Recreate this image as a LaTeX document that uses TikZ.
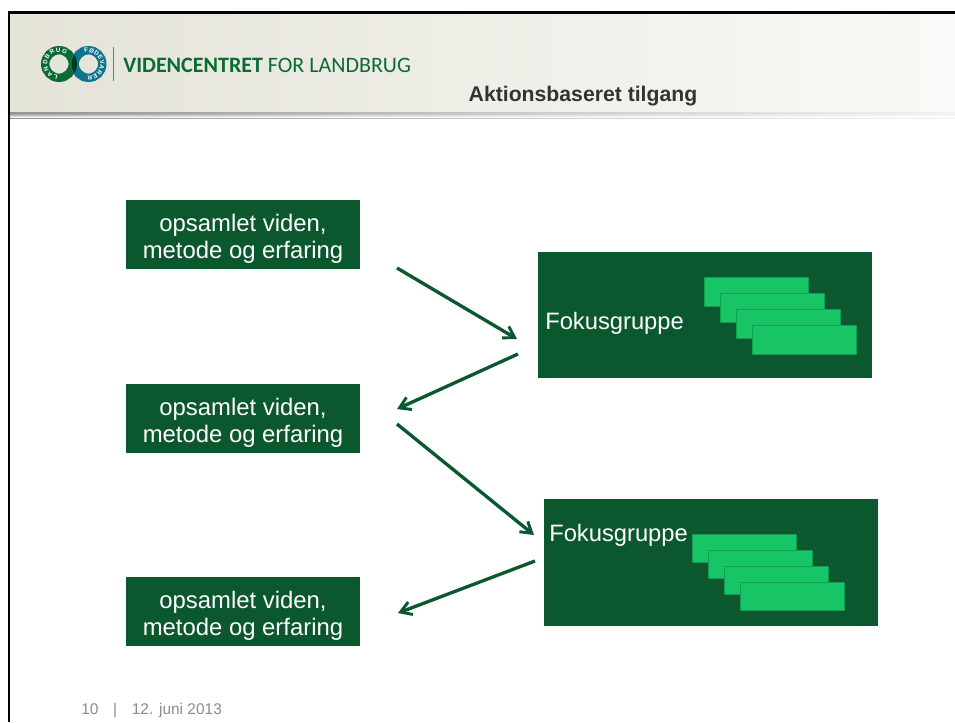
\documentclass[tikz,border=0pt]{standalone}
\usepackage{fontspec}
\setmainfont{Liberation Sans}
\usetikzlibrary{arrows.meta}
\definecolor{dkgreen}{HTML}{0B582E}
\definecolor{ltgreen}{HTML}{17C566}
\definecolor{ringgreen}{HTML}{0B6B35}
\definecolor{ringblue}{HTML}{10748C}
\definecolor{hdr}{HTML}{DBD9CA}
\pgfdeclarehorizontalshading{hdrshade}{100bp}{color(0bp)=(hdr);color(50bp)=(hdr!45!white);color(75bp)=(hdr!15!white);color(92bp)=(white);color(100bp)=(white)}
\pgfdeclarehorizontalshading{shadowshade}{100bp}{color(0bp)=(black!62);color(50bp)=(black!22);color(72bp)=(black!7);color(82bp)=(white);color(100bp)=(white)}
\tikzset{
  x=0.75pt,y=-0.75pt,
  infobox/.style={fill=dkgreen,minimum width=175.5pt,minimum height=51.75pt,inner sep=0pt},
  infotext/.style={text=white,inner sep=0pt,align=center,font=\fontsize{17.9}{20.4}\selectfont},
  focusbox/.style={fill=dkgreen,minimum width=250.5pt,minimum height=94.9pt,inner sep=0pt},
  bar/.style={fill=ltgreen,draw=dkgreen!35!ltgreen,line width=0.3pt,minimum width=78.5pt,minimum height=21.5pt,inner sep=0pt},
  focuslabel/.style={text=white,inner sep=0pt,font=\fontsize{17.8}{20}\selectfont},
  flow/.style={draw=dkgreen,line width=2.5pt,-{Straight Barb[length=8pt,width=10pt,line width=2.2pt]}},
  ringletter/.style={text=white,inner sep=0pt,font=\fontsize{4.6}{5}\selectfont\bfseries}
}
\begin{document}
\begin{tikzpicture}
\useasboundingbox (0,0) rectangle (955,722);
\fill[white] (0,0) rectangle (955,722);
% header band
\shade[shading=hdrshade] (10,14) rectangle (955,112);
\shade[shading=shadowshade] (10,112) rectangle (955,118);
\fill[white,opacity=0.15] (10,113.5) rectangle (955,114.5);
\fill[white,opacity=0.4] (10,114.5) rectangle (955,115.5);
\fill[white,opacity=0.65] (10,115.5) rectangle (955,116.5);
\fill[white,opacity=0.9] (10,116.5) rectangle (955,118.2);
% frame
\draw[black,line width=2.1pt] (9,722) -- (9,12.5) -- (955,12.5);
% logo
\draw[ringgreen,line width=6.3pt] (59,64) circle[radius=13.8];
\draw[ringblue,line width=6.3pt] (88.5,64) circle[radius=13.8];
\begin{scope}
\clip (88.5,64) circle[radius=17];
\draw[black!45!ringgreen,line width=6.3pt] (59,64) circle[radius=13.8];
\end{scope}
\foreach \ch [count=\i] in {L,A,N,D,B,R,U,G}
  \node[ringletter,rotate={255-(\i-1)*27-90}] (gl\i) at ({59+13.8*cos(255-(\i-1)*27)},{64-13.8*sin(255-(\i-1)*27)}) {\ch};
\foreach \ch [count=\i] in {F,Ø,D,E,V,A,R,E,R}
  \node[ringletter,rotate={100-(\i-1)*23-90}] (bl\i) at ({88.5+13.8*cos(100-(\i-1)*23)},{64-13.8*sin(100-(\i-1)*23)}) {\ch};
\draw[ringgreen!70!hdr,line width=0.6pt] (113.5,47) -- (113.5,81);
\node[anchor=west,inner sep=0pt,text=ringgreen] (brand) at (123,65) {\fontsize{16.5}{18}\selectfont\fontspec{Carlito}\textbf{VIDENCENTRET} FOR LANDBRUG};
% title
\node[anchor=base,inner sep=0pt,text=black!80] (title) at (583,101.7) {\fontsize{15.9}{18}\selectfont\bfseries Aktionsbaseret tilgang};
% left boxes
\node[infobox] (a) at (243,234.5) {};
\node[infobox] (b) at (243,418.5) {};
\node[infobox] (c) at (243,611.5) {};
\node[infotext] (at) at (243,238.7) {opsamlet viden,\\metode og erfaring};
\node[infotext] (bt) at (243,422.7) {opsamlet viden,\\metode og erfaring};
\node[infotext] (ct) at (243,615.7) {opsamlet viden,\\metode og erfaring};
% focus boxes
\node[focusbox] (f1) at (705,315.2) {};
\node[focusbox] (f2) at (711,562.5) {};
\node[focuslabel,anchor=base west] (f1t) at (545,329) {Fokusgruppe};
\node[focuslabel,anchor=base west] (f2t) at (549,541.7) {Fokusgruppe};
\node[bar] (b11) at (756.2,291.5) {};
\node[bar] (b12) at (772.2,307.5) {};
\node[bar] (b13) at (788.2,323.5) {};
\node[bar] (b14) at (804.2,339.5) {};
\node[bar] (b21) at (744.2,548.3) {};
\node[bar] (b22) at (760.2,564.3) {};
\node[bar] (b23) at (776.2,580.3) {};
\node[bar] (b24) at (792.2,596.3) {};
% connector ends
\coordinate (s1) at (397,268);
\coordinate (e1) at (517,339);
\coordinate (s2) at (518,354);
\coordinate (e2) at (397,409);
\coordinate (s3) at (397,424);
\coordinate (e3) at (534,535);
\coordinate (s4) at (535,561);
\coordinate (e4) at (398,613);
\draw[flow] (s1) -- (e1);
\draw[flow] (s2) -- (e2);
\draw[flow] (s3) -- (e3);
\draw[flow] (s4) -- (e4);
% footer
\node[anchor=base west,inner sep=0pt,text=black!45] (foot) at (81,714) {\fontsize{11.6}{13}\selectfont 10\hspace{0.95em}|\hspace{0.95em}12. juni 2013};
\end{tikzpicture}
\end{document}
